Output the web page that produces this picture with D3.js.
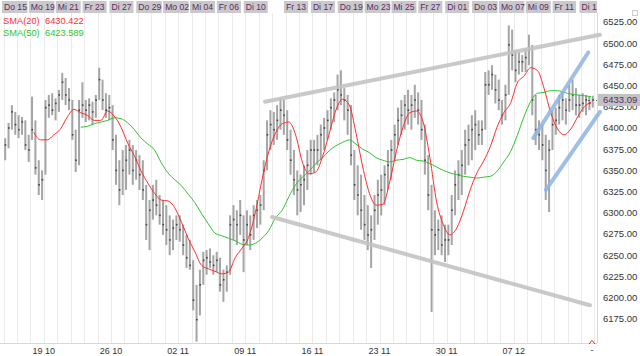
<!DOCTYPE html>
<html><head><meta charset="utf-8">
<script src="https://cdn.jsdelivr.net/npm/d3@7"></script>
<style>body{margin:0;background:#fff}svg{display:block;font-family:"Liberation Sans",Arial,sans-serif}</style>
</head><body><svg id="c" width="640" height="356"></svg>
<script>
const days = ["Do 15","Fr 16","Mo 19","Di 20","Mi 21","Do 22","Fr 23","Mo 26","Di 27","Mi 28","Do 29","Fr 30","Mo 02","Di 03","Mi 04","Do 05","Fr 06","Mo 09","Di 10","Mi 11","Do 12","Fr 13","Mo 16","Di 17","Mi 18","Do 19","Fr 20","Mo 23","Di 24","Mi 25","Do 26","Fr 27","Mo 30","Di 01","Mi 02","Do 03","Fr 04","Mo 07","Di 08","Mi 09","Do 10","Fr 11","Mo 14","Di 15"];
const topLabelIdx = [0,2,4,6,8,10,12,14,16,18,21,23,25,27,29,31,33,35,37,39,41,43];
const weekLabels = ["19 10","26 10","02 11","09 11","16 11","23 11","30 11","07 12"];
const weekDays = [2,7,12,17,22,27,32,37];
const yTicks = [6175,6200,6225,6250,6275,6300,6325,6350,6375,6400,6425,6450,6475,6500,6525];
const barsPerDay = 4;
const hi = [6388,6406,6427,6419, 6415,6413,6409,6392, 6437,6409,6362,6350, 6433,6439,6441,6435, 6445,6465,6459,6447, 6433,6398,6433,6454, 6433,6435,6431,6439, 6471,6457,6441,6439, 6427,6392,6362,6374, 6380,6386,6380,6374, 6368,6362,6333,6315, 6333,6339,6321,6315, 6309,6297,6292,6297, 6297,6286,6274,6268, 6244,6215,6233,6254, 6256,6258,6250,6254, 6247,6233,6238,6297, 6309,6303,6315,6297, 6303,6297,6309,6315, 6321,6362,6409,6421, 6419,6427,6435,6433, 6421,6398,6374,6350, 6345,6356,6374,6386, 6386,6392,6404,6412, 6421,6435,6442,6463, 6468,6447,6439,6427, 6374,6356,6345,6321, 6309,6297,6321,6339, 6345,6356,6374,6386, 6404,6424,6433,6439, 6445,6439,6451,6442, 6433,6404,6368,6333, 6303,6292,6297,6286, 6286,6321,6350,6362, 6374,6398,6404,6415, 6421,6409,6409,6466, 6468,6474,6463,6457, 6433,6451,6521,6516, 6492,6490,6486,6492, 6510,6498,6439,6409, 6404,6392,6386,6421, 6424,6439,6442,6435, 6451,6457,6447,6439, 6441,6439,6437,6438];
const lo = [6362,6376,6398,6392, 6388,6392,6374,6360, 6386,6345,6321,6315, 6345,6412,6415,6409, 6419,6433,6427,6421, 6386,6348,6356,6412, 6407,6409,6404,6412, 6433,6421,6412,6409, 6374,6333,6309,6321, 6327,6345,6333,6339, 6327,6315,6268,6256, 6292,6297,6286,6274, 6262,6250,6256,6268, 6266,6250,6235,6233, 6185,6148,6179,6215, 6227,6235,6227,6230, 6207,6195,6207,6227, 6268,6262,6274,6230, 6262,6256,6268,6282, 6286,6303,6350,6374, 6380,6386,6398,6392, 6374,6345,6321,6297, 6301,6309,6327,6345, 6348,6356,6362,6374, 6386,6398,6407,6421, 6427,6409,6392,6356, 6315,6297,6280,6268, 6256,6235,6268,6286, 6297,6309,6327,6339, 6362,6380,6392,6398, 6404,6398,6412,6404, 6386,6345,6303,6183, 6250,6256,6250,6242, 6250,6262,6297,6315, 6321,6345,6356,6362, 6374,6380,6380,6398, 6439,6445,6429,6421, 6404,6409,6439,6468, 6454,6463,6466,6466, 6474,6415,6380,6374, 6362,6315,6301,6374, 6392,6404,6409,6404, 6419,6421,6415,6412, 6419,6415,6421,6424];
const cl = [6380,6400,6419,6404, 6398,6407,6380,6374, 6398,6353,6333,6339, 6424,6427,6421,6429, 6439,6454,6439,6433, 6392,6362,6421,6427, 6421,6427,6419,6433, 6457,6433,6421,6424, 6386,6350,6327,6350, 6362,6374,6350,6362, 6345,6327,6286,6303, 6315,6309,6297,6286, 6280,6268,6282,6286, 6280,6262,6247,6238, 6197,6174,6215,6244, 6247,6242,6238,6244, 6215,6221,6230,6286, 6292,6286,6297,6268, 6286,6274,6297,6303, 6309,6350,6392,6404, 6398,6409,6421,6415, 6386,6362,6339,6327, 6333,6339,6356,6374, 6374,6374,6392,6400, 6409,6424,6433,6445, 6439,6433,6421,6368, 6333,6321,6303,6286, 6274,6280,6303,6321, 6327,6345,6356,6374, 6392,6409,6415,6427, 6421,6427,6433,6421, 6398,6362,6321,6280, 6274,6280,6262,6268, 6268,6303,6333,6345, 6356,6380,6386,6398, 6404,6392,6398,6451, 6451,6463,6445,6433, 6415,6439,6498,6486, 6468,6478,6478,6483, 6492,6433,6398,6392, 6380,6350,6374,6404, 6409,6424,6433,6421, 6433,6439,6427,6427, 6429,6433,6429,6433.09];
// moving averages read at every half day
const sma20 = [null,null,null,null,
 6395,6386,6386,6392,6399,6413,6422,6418,6415,6409,
 6409,6420,6414,6401,6382,6367,6349,6335,6323,6315,
 6314,6306,6289,6270,6254,6238,6234,6231,6228,6230,
 6247,6258,6271,6300,6339,6372,6394,6405,6407,6392,
 6360,6346,6348,6366,6393,6421,6434,6427,6394,6354,
 6323,6309,6310,6336,6372,6401,6418,6420,6407,6365,
 6313,6286,6274,6282,6302,6327,6347,6361,6378,6401,
 6418,6429,6453,6461,6471,6468,6447,6418,6399,6392,
 6399,6413,6425,6430.4];
const sma50 = [null,null,null,null,null,null,null,null,null,null,null,
 6401,6402,6405,6407,6409,6412,6411,6406,6398,6388,
 6381,6374,6359,6347,6339,6332,6322,6312,6299,6287,
 6276,6273,6270,6267,6263,6262,6264,6270,6279,6294,
 6303,6319,6333,6342,6349,6358,6365,6373,6379,6383,
 6386,6381,6375,6371,6365,6362,6360,6362,6363,6365,
 6362,6361,6358,6354,6350,6347,6345,6343,6342,6341,
 6342,6343,6349,6360,6372,6391,6413,6431,6441,6442,
 6444,6444,6442,6440,6439,6438,6437];
const legendNames = ["SMA(20)","SMA(50)"];
const legendValues = ["6430.422","6423.589"];
const lastPrice = 6433.09;
// trend lines: [day1, price1, day2, price2]
const greyLines = [[19.47,6431,44.41,6510],[19.99,6295,43.67,6191]];
const blueLines = [[39.45,6388,43.54,6489],[40.39,6327,44.41,6419]];

const svg = d3.select("#c");
const plotR = 597, plotT = 13, plotB = 343;
const x = d3.scaleLinear().domain([0, 44]).range([3.5, 594.4]);
const y = d3.scaleLinear().domain([6150, 6525]).range([340, 22]);

// vertical grid per day
svg.append("g").selectAll("line").data(d3.range(0, 45)).join("line")
  .attr("x1", d => Math.round(x(d)) + 0.5).attr("x2", d => Math.round(x(d)) + 0.5)
  .attr("y1", plotT).attr("y2", plotB).attr("stroke", "#ebebeb");
// frame lines
svg.append("line").attr("x1", plotR + 0.5).attr("x2", plotR + 0.5).attr("y1", plotT).attr("y2", plotB).attr("stroke", "#d8d8d8");
svg.append("line").attr("x1", 0).attr("x2", plotR).attr("y1", plotB + 0.5).attr("y2", plotB + 0.5).attr("stroke", "#d8d8d8");

// top date labels
svg.append("clipPath").attr("id", "tc").append("rect").attr("x", 0).attr("y", 0).attr("width", plotR).attr("height", 14);
const tg = svg.append("g").attr("clip-path", "url(#tc)");
topLabelIdx.forEach(i => {
  const g = tg.append("g").attr("transform", `translate(${x(i) - 1.5},0)`);
  const r = g.append("rect").attr("y", 1).attr("height", 12).attr("fill", "#c9c9cb");
  const t = g.append("text").attr("x", 2).attr("y", 10.3).attr("font-size", 8.6).attr("fill", "#5b2a66").text(days[i]);
  r.attr("width", Math.min(25.5, t.node().getComputedTextLength() + 4));
});

// bottom week labels
svg.append("g").selectAll("text").data(weekLabels).join("text")
  .attr("x", (d, i) => x(weekDays[i] + 1)).attr("y", 354).attr("text-anchor", "middle")
  .attr("font-size", 9).attr("fill", "#333").text(d => d);
svg.append("text").attr("x", 592).attr("y", 353).attr("text-anchor", "middle").attr("font-size", 9).attr("fill", "#333").text("-");
svg.append("path").attr("d", "M589,344 L592,340.5 L595,344").attr("fill", "none").attr("stroke", "#e03030").attr("stroke-width", 1);

// right axis labels
svg.append("g").selectAll("text").data(yTicks).join("text")
  .attr("x", 603).attr("y", d => y(d)).attr("dy", "0.35em")
  .attr("font-size", 9.5).attr("fill", "#333").text(d => d3.format(".2f")(d));
// corner box icon
svg.append("rect").attr("x", 632.5).attr("y", 10.5).attr("width", 5).attr("height", 5).attr("fill", "none").attr("stroke", "#ccc");

// bars
const bars = svg.append("g");
hi.forEach((h, k) => {
  const cx = x((k + 0.5) / barsPerDay);
  bars.append("rect").attr("x", cx - 1).attr("width", 2)
    .attr("y", y(h)).attr("height", Math.max(1, y(lo[k]) - y(h))).attr("fill", "#a5a5a5");
  bars.append("rect").attr("x", cx - 0.5).attr("width", 1.6).attr("y", y(cl[k]) - 0.8).attr("height", 1.6).attr("fill", "#444");
});

// moving averages
const maLine = d3.line().defined(d => d != null).x((d, j) => x((j + 0.5) / 2)).y(d => y(d)).curve(d3.curveMonotoneX);
svg.append("path").attr("d", maLine(sma50)).attr("fill", "none").attr("stroke", "#2fc22f").attr("stroke-width", 1);
svg.append("path").attr("d", maLine(sma20)).attr("fill", "none").attr("stroke", "#ff2d2d").attr("stroke-width", 1);

// trend lines
svg.append("g").selectAll("line").data(greyLines).join("line")
  .attr("x1", d => x(d[0])).attr("y1", d => y(d[1])).attr("x2", d => x(d[2])).attr("y2", d => y(d[3]))
  .attr("stroke", "#c4c4c4").attr("stroke-width", 4).attr("stroke-linecap", "round").attr("opacity", 0.9);
svg.append("g").selectAll("line").data(blueLines).join("line")
  .attr("x1", d => x(d[0])).attr("y1", d => y(d[1])).attr("x2", d => x(d[2])).attr("y2", d => y(d[3]))
  .attr("stroke", "#8fb4e6").attr("stroke-width", 4).attr("stroke-linecap", "round").attr("opacity", 0.85);

// last price marker
svg.append("line").attr("x1", 588).attr("x2", plotR).attr("y1", Math.round(y(lastPrice)) + 0.5).attr("y2", Math.round(y(lastPrice)) + 0.5)
  .attr("stroke", "#666").attr("stroke-dasharray", "2,2");
svg.append("rect").attr("x", plotR + 1).attr("y", y(lastPrice) - 6).attr("width", 42).attr("height", 12).attr("fill", "#c2c2c2");
svg.append("text").attr("x", 603).attr("y", y(lastPrice)).attr("dy", "0.35em").attr("font-size", 9.5).attr("fill", "#5b2a66").text(d3.format(".2f")(lastPrice));

// legend
const lg = svg.append("g");
const lcol = ["#ff3030", "#2fc22f"];
legendNames.forEach((n, i) => {
  lg.append("text").attr("x", 3).attr("y", 24 + i * 12).attr("font-size", 9.3).attr("fill", lcol[i]).text(n);
  lg.append("text").attr("x", 45).attr("y", 24 + i * 12).attr("font-size", 9.3).attr("fill", lcol[i]).text(legendValues[i]);
});
</script></body></html>
